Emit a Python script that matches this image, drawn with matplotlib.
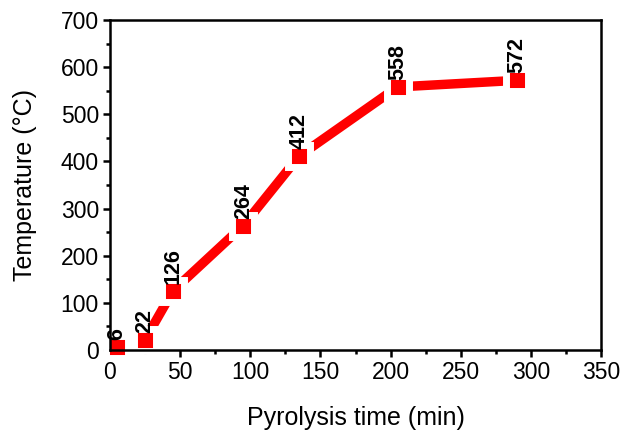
import matplotlib
matplotlib.use("Agg")
import matplotlib.pyplot as plt
from matplotlib.ticker import MultipleLocator

time_min = [5, 25, 45, 95, 135, 205, 290]
temperature = [6, 22, 126, 264, 412, 558, 572]
labels = ["6", "22", "126", "264", "412", "558", "572"]

plt.rcParams['font.family'] = ['Liberation Sans', 'DejaVu Sans']

fig = plt.figure(figsize=(6.31, 4.38), dpi=100)
ax = fig.add_axes([0.1743, 0.2009, 0.9525 - 0.1743, 0.9543 - 0.2009])

ax.plot(time_min, temperature, color='#ff0000', lw=6.8, solid_capstyle='butt',
        marker='s', markersize=15.5, markerfacecolor='#ff0000',
        markeredgecolor='white', markeredgewidth=5.0, clip_on=False, zorder=2)

for x, y, t in zip(time_min, temperature, labels):
    ax.annotate(t, (x, y), xytext=(0, 5), textcoords='offset points',
                rotation=90, ha='center', va='bottom', fontsize=15.5,
                fontweight='bold', zorder=5)

ax.set_xlim(0, 350)
ax.set_ylim(0, 700)
ax.xaxis.set_major_locator(MultipleLocator(50))
ax.xaxis.set_minor_locator(MultipleLocator(25))
ax.yaxis.set_major_locator(MultipleLocator(100))
ax.yaxis.set_minor_locator(MultipleLocator(50))

for s in ax.spines.values():
    s.set_linewidth(1.8)
    s.set_zorder(4)

ax.tick_params(which='major', direction='out', length=5, width=1.8, labelsize=16.5,
               pad=3, top=False, right=False)
ax.tick_params(which='minor', direction='out', length=3, width=1.8,
               top=False, right=False)

ax.set_xlabel('Pyrolysis time (min)', fontsize=18, labelpad=16)
ax.set_ylabel('Temperature (°C)', fontsize=18, labelpad=17)

fig.savefig('out.png', dpi=100)
